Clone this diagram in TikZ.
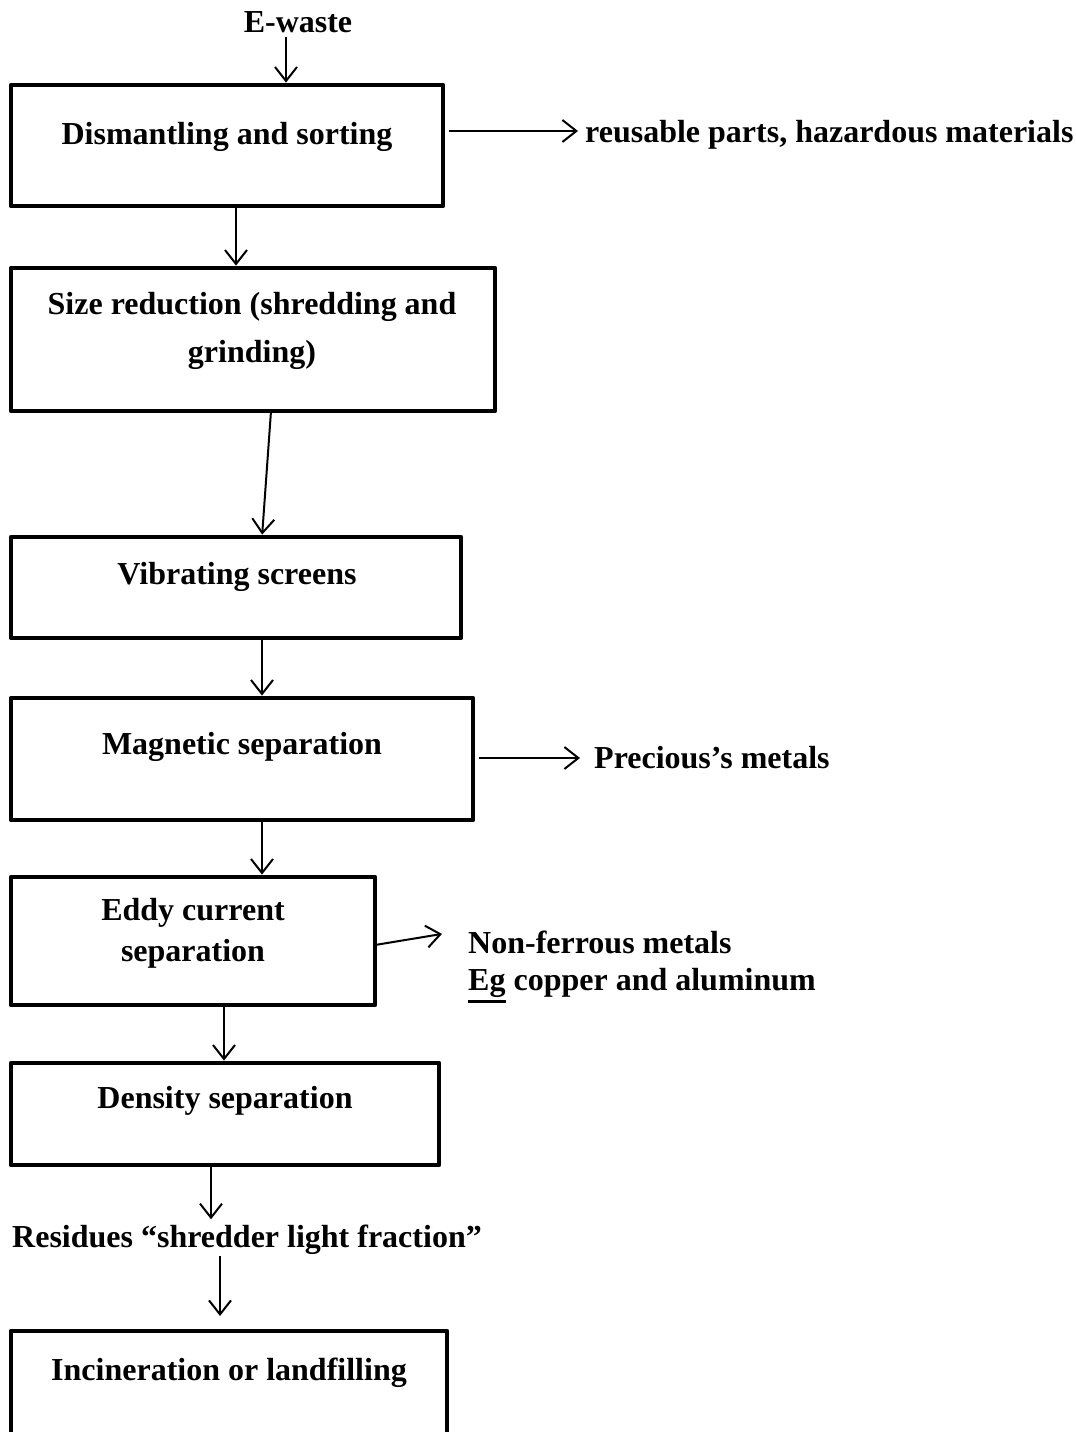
\documentclass[tikz,border=0pt]{standalone}
\usepackage{fontspec}
\setmainfont{Liberation Serif}
\usepackage{tikz}
\usetikzlibrary{arrows.meta}
\usetikzlibrary{positioning}
\tikzset{>={Straight Barb[length=14pt,width=22pt]}}
\tikzstyle{stage} = [rectangle, draw, line width = 4.8pt, inner sep = 0, outer sep = 0, line join = round]
\tikzstyle{lbl} = [draw = none, inner sep = 0, font = \bfseries\fontsize{32}{38}\selectfont]
\tikzstyle{flow} = [->, line width = 2pt]
\newcommand{\egline}[1]{\vtop{\hbox{#1}\kern 3pt\hrule height 3pt}}

\begin{document}
\begin{tikzpicture}[x = 1pt, y = -1pt]
\clip (0, 0) rectangle (1076, 1432);
% boxes
\node [stage, minimum width = 432, minimum height = 121] (D) at (227, 145.5) {};
\node [stage, minimum width = 484, minimum height = 143] (S) at (253, 339.5) {};
\node [stage, minimum width = 450, minimum height = 101] (V) at (236, 587.5) {};
\node [stage, minimum width = 462, minimum height = 122] (M) at (242, 759) {};
\node [stage, minimum width = 364, minimum height = 128] (C) at (193, 941) {};
\node [stage, minimum width = 428, minimum height = 102] (Dn) at (225, 1114) {};
\node [stage, minimum width = 436, minimum height = 169] (I) at (229, 1415.5) {};
% texts
\node [lbl, anchor = base] (E) at (298, 32) {E-waste};
\node [lbl, anchor = base] (Dt) at (227, 144) {Dismantling and sorting};
\node [lbl, anchor = base] (St1) at (252, 314) {Size reduction (shredding and};
\node [lbl, anchor = base] (St2) at (252, 362) {grinding)};
\node [lbl, anchor = base] (Vt) at (237, 584) {Vibrating screens};
\node [lbl, anchor = base] (Mt) at (242, 754) {Magnetic separation};
\node [lbl, anchor = base] (Ct1) at (193, 920) {Eddy current};
\node [lbl, anchor = base] (Ct2) at (193, 961) {separation};
\node [lbl, anchor = base] (Dnt) at (225, 1108) {Density separation};
\node [lbl, anchor = base] (It) at (229, 1380) {Incineration or landfilling};
\node [lbl, anchor = base west] (P) at (585, 142) {reusable parts, hazardous materials};
\node [lbl, anchor = base west] (G) at (594, 768) {Precious’s metals};
\node [lbl, anchor = base west] (N) at (468, 953) {Non-ferrous metals};
\node [lbl, anchor = base west] (Eg) at (468, 990) {\egline{Eg} copper and aluminum};
\node [lbl, anchor = base west] (R) at (12, 1247) {Residues “shredder light fraction”};
% arrows
\draw [flow, shorten <= 4pt, shorten >= 2.4pt] ([xshift = -12pt]E.south) to ([xshift = 59pt]D.north);
\draw [flow, shorten <= 6pt, shorten >= 7pt] ([yshift = 14.5pt]D.east) to ([yshift = 14.5pt]D.east -| P.west);
\draw [flow, shorten >= 2.4pt] ([xshift = 9pt]D.south) to ([xshift = 9pt]D.south |- S.north);
\draw [flow, shorten >= 2.4pt] ([xshift = 18pt]S.south) to ([xshift = 26pt]V.north);
\draw [flow, shorten >= 2.4pt] ([xshift = 26pt]V.south) to ([xshift = 26pt]V.south |- M.north);
\draw [flow, shorten <= 6pt, shorten >= 14pt] ([yshift = 1pt]M.east) to ([yshift = 1pt]M.east -| G.west);
\draw [flow, shorten >= 2.4pt] ([xshift = 20pt]M.south) to ([xshift = 20pt]M.south |- C.north);
\draw [flow, shorten <= 2pt] ([yshift = -4pt]C.east) to ([shift = {(-26pt, 8pt)}]N.west);
\draw [flow, shorten >= 2.4pt] ([xshift = 31pt]C.south) to ([xshift = 31pt]C.south |- Dn.north);
\draw [flow, shorten >= 5pt] ([xshift = -14pt]Dn.south) to ([xshift = -14pt]Dn.south |- R.north);
\draw [flow, shorten <= 2pt, shorten >= 15pt] ([xshift = -9pt]I.north |- R.south) to ([xshift = -9pt]I.north);
\end{tikzpicture}
\end{document}
